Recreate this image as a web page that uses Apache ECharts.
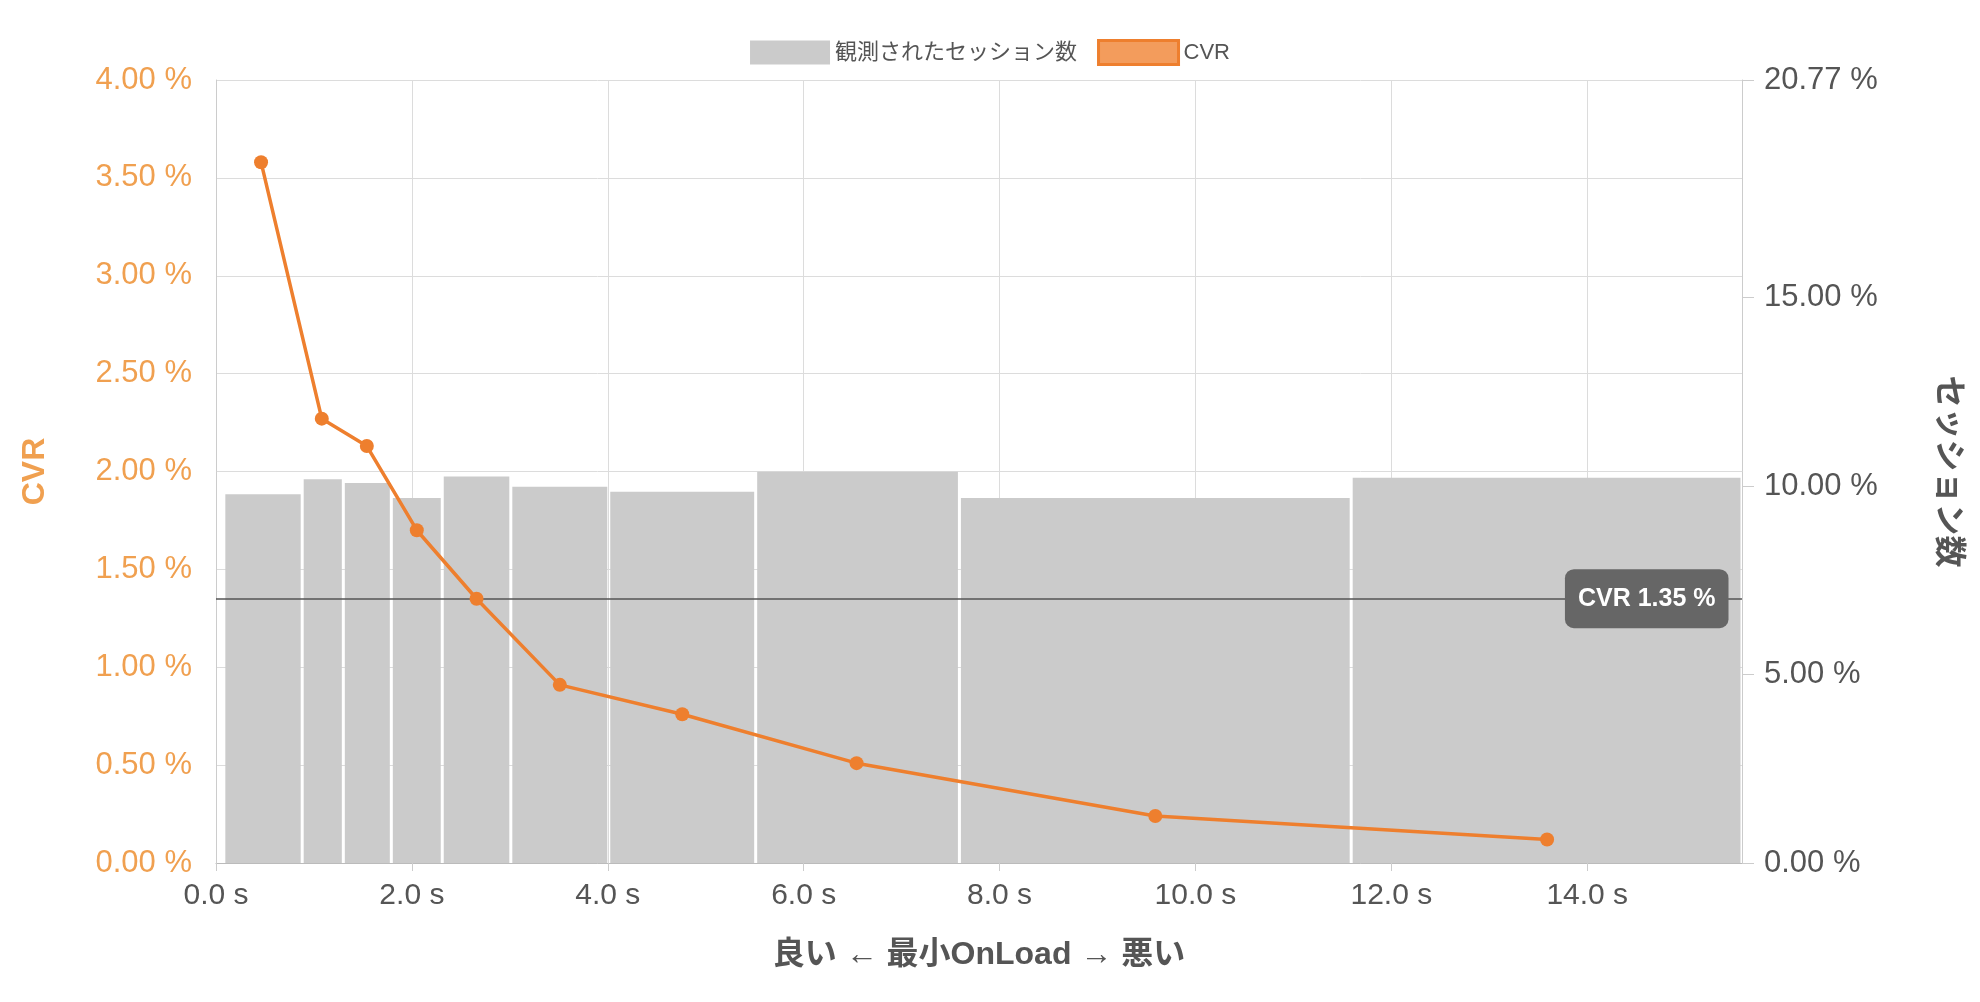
<!DOCTYPE html>
<html><head><meta charset="utf-8">
<script src="https://cdn.jsdelivr.net/npm/echarts@6/dist/echarts.min.js"></script>
<style>html,body{margin:0;padding:0;background:#fff}#c{width:1980px;height:1002px}</style>
</head><body><div id="c"></div>
<script>
const binStarts = [0.08, 0.88, 1.30, 1.79, 2.31, 3.01, 4.01, 5.51, 7.59, 11.59];
const binEnds   = [0.88, 1.30, 1.79, 2.31, 3.01, 4.01, 5.51, 7.59, 11.59, 15.58];
const sessionPct = [9.78, 10.18, 10.08, 9.68, 10.25, 9.98, 9.85, 10.38, 9.68, 10.22];
const cvrX = [0.46, 1.08, 1.54, 2.05, 2.66, 3.51, 4.76, 6.54, 9.59, 13.59];
const cvrY = [3.58, 2.27, 2.13, 1.70, 1.35, 0.91, 0.76, 0.51, 0.24, 0.12];
const avgCvr = 1.35;
const xMax = 15.58;
const rightTicks = [0, 5, 10, 15, 20.77];

const font = '"Liberation Sans", "Noto Sans CJK JP", sans-serif';
const barData = binStarts.map((s, i) => [s, binEnds[i], sessionPct[i]]);
const lineData = cvrX.map((x, i) => [x, cvrY[i]]);

const chart = echarts.init(document.getElementById('c'));
chart.setOption({
  animation: false,
  textStyle: { fontFamily: font },
  legend: {
    top: 34, left: 'center', itemWidth: 80, itemHeight: 24, itemGap: 20,
    textStyle: { fontSize: 22, color: '#555', fontFamily: font },
    data: [
      { name: '観測されたセッション数', icon: 'rect', itemStyle: { color: '#cbcbcb' } },
      { name: 'CVR', icon: 'rect', itemStyle: { color: '#f39c5c', borderColor: '#ee7f2e', borderWidth: 3 } }
    ]
  },
  grid: { left: 216, right: 238, top: 80, bottom: 139 },
  xAxis: {
    type: 'value', min: 0, max: xMax, interval: 2,
    name: '良い ← 最小OnLoad → 悪い', nameLocation: 'middle', nameGap: 76,
    nameTextStyle: { fontSize: 32, fontWeight: 'bold', color: '#555', fontFamily: font },
    axisLine: { lineStyle: { color: '#bbb' } },
    axisTick: { show: true, length: 8, lineStyle: { color: '#ccc' } },
    axisLabel: { fontSize: 30, color: '#555', margin: 18, formatter: v => v.toFixed(1) + ' s', showMaxLabel: false, fontFamily: font },
    splitLine: { show: true, lineStyle: { color: '#dcdcdc' } }
  },
  yAxis: [
    {
      type: 'value', min: 0, max: 4, interval: 0.5, position: 'left',
      name: 'CVR', nameLocation: 'middle', nameGap: 165, nameRotate: 90,
      nameTextStyle: { fontSize: 32, fontWeight: 'bold', color: '#f0a050', fontFamily: font },
      axisLine: { show: true, lineStyle: { color: '#ccc' } },
      axisTick: { show: false },
      axisLabel: { fontSize: 31, color: '#f0a050', margin: 24, formatter: v => v.toFixed(2) + ' %', fontFamily: font },
      splitLine: { lineStyle: { color: '#dcdcdc' } }
    },
    {
      type: 'value', min: 0, max: 20.77, position: 'right',
      name: 'セッション数', nameLocation: 'middle', nameGap: 190, nameRotate: -90,
      nameTextStyle: { fontSize: 32, fontWeight: 'bold', color: '#555', fontFamily: font },
      axisLine: { show: true, lineStyle: { color: '#ccc' } },
      axisTick: { show: true, length: 12, customValues: rightTicks, lineStyle: { color: '#ccc' } },
      axisLabel: { fontSize: 31, color: '#555', margin: 22, customValues: rightTicks, formatter: v => v.toFixed(2) + ' %', fontFamily: font },
      splitLine: { show: false }
    }
  ],
  series: [
    {
      name: '観測されたセッション数', type: 'custom', yAxisIndex: 1, z: 1,
      itemStyle: { color: '#cbcbcb' },
      data: barData,
      encode: { x: [0, 1], y: 2 },
      renderItem: (params, api) => {
        const p0 = api.coord([api.value(0), api.value(2)]);
        const p1 = api.coord([api.value(1), 0]);
        return { type: 'rect', shape: { x: p0[0] + 1.5, y: p0[1], width: p1[0] - p0[0] - 3, height: p1[1] - p0[1] },
                 style: { fill: '#cbcbcb' } };
      }
    },
    {
      name: 'CVR', type: 'line', yAxisIndex: 0, z: 5, data: lineData,
      symbol: 'circle', symbolSize: 14,
      lineStyle: { color: '#ee7f2e', width: 3.5 },
      itemStyle: { color: '#ee7f2e' },
      markLine: {
        symbol: 'none', silent: true,
        lineStyle: { color: '#555', width: 1.5, type: 'solid' },
        label: { show: false },
        data: [{ yAxis: avgCvr }]
      },
      markPoint: {
        symbol: 'rect', symbolSize: 1, silent: true,
        itemStyle: { color: 'rgba(0,0,0,0)' },
        label: { position: 'left', distance: 13, formatter: 'CVR 1.35 %', color: '#fff', fontSize: 25, fontWeight: 'bold',
                 fontFamily: font, backgroundColor: '#666', borderRadius: 9, padding: [17, 13] },
        data: [{ coord: [xMax, avgCvr] }]
      }
    }
  ]
});
</script></body></html>
